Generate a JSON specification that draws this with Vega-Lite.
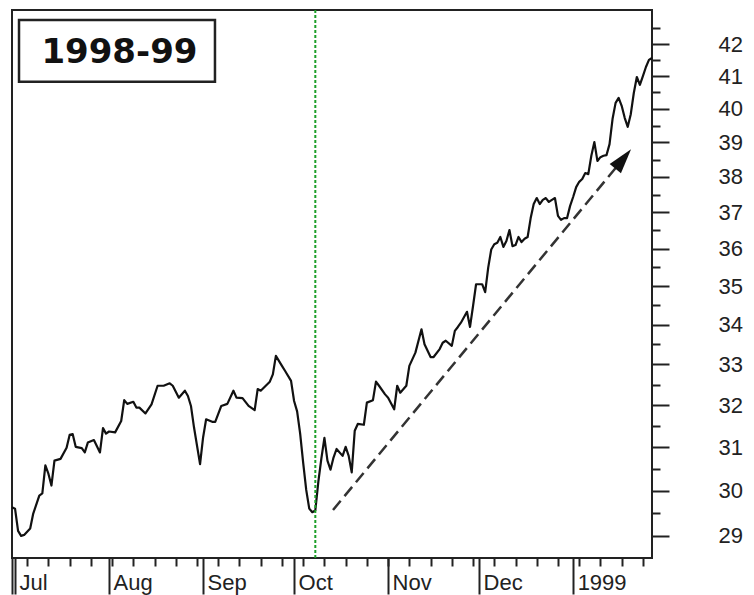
{
  "$schema": "https://vega.github.io/schema/vega-lite/v6.json",
  "width": 640,
  "height": 548,
  "padding": {"left": 10, "top": 9, "right": 0, "bottom": 0},
  "background": "white",
  "config": {
    "view": {"stroke": "#222", "strokeWidth": 2},
    "axis": {"labelFont": "Liberation Sans", "labelFontSize": 22, "labelColor": "#222", "tickColor": "#222", "tickWidth": 2, "domain": false, "grid": false, "title": null}
  },
  "datasets": {
    "price": [
      {"date": "1998-06-30", "close": 29.63}, {"date": "1998-07-01", "close": 29.60}, {"date": "1998-07-02", "close": 29.11},
      {"date": "1998-07-03", "close": 29.00}, {"date": "1998-07-04", "close": 29.02}, {"date": "1998-07-06", "close": 29.16},
      {"date": "1998-07-07", "close": 29.49}, {"date": "1998-07-09", "close": 29.89}, {"date": "1998-07-10", "close": 29.94},
      {"date": "1998-07-11", "close": 30.58}, {"date": "1998-07-12", "close": 30.39}, {"date": "1998-07-13", "close": 30.12},
      {"date": "1998-07-14", "close": 30.69}, {"date": "1998-07-16", "close": 30.73}, {"date": "1998-07-18", "close": 30.99},
      {"date": "1998-07-19", "close": 31.29}, {"date": "1998-07-20", "close": 31.31}, {"date": "1998-07-21", "close": 31.01},
      {"date": "1998-07-23", "close": 30.98}, {"date": "1998-07-24", "close": 30.88}, {"date": "1998-07-25", "close": 31.11},
      {"date": "1998-07-27", "close": 31.17}, {"date": "1998-07-29", "close": 30.88}, {"date": "1998-07-30", "close": 31.45},
      {"date": "1998-07-31", "close": 31.32}, {"date": "1998-08-01", "close": 31.37}, {"date": "1998-08-03", "close": 31.35},
      {"date": "1998-08-05", "close": 31.62}, {"date": "1998-08-06", "close": 32.12}, {"date": "1998-08-07", "close": 32.03},
      {"date": "1998-08-09", "close": 32.08}, {"date": "1998-08-10", "close": 31.94}, {"date": "1998-08-11", "close": 31.94},
      {"date": "1998-08-13", "close": 31.80}, {"date": "1998-08-15", "close": 32.02}, {"date": "1998-08-17", "close": 32.47},
      {"date": "1998-08-19", "close": 32.47}, {"date": "1998-08-21", "close": 32.53}, {"date": "1998-08-22", "close": 32.47},
      {"date": "1998-08-24", "close": 32.18}, {"date": "1998-08-26", "close": 32.35}, {"date": "1998-08-27", "close": 32.22},
      {"date": "1998-08-28", "close": 31.98}, {"date": "1998-08-29", "close": 31.47}, {"date": "1998-08-31", "close": 30.61},
      {"date": "1998-09-01", "close": 31.23}, {"date": "1998-09-02", "close": 31.66}, {"date": "1998-09-04", "close": 31.60},
      {"date": "1998-09-05", "close": 31.60}, {"date": "1998-09-07", "close": 31.98}, {"date": "1998-09-09", "close": 32.03},
      {"date": "1998-09-11", "close": 32.35}, {"date": "1998-09-12", "close": 32.18}, {"date": "1998-09-14", "close": 32.17},
      {"date": "1998-09-16", "close": 31.98}, {"date": "1998-09-18", "close": 31.88}, {"date": "1998-09-19", "close": 32.39},
      {"date": "1998-09-20", "close": 32.35}, {"date": "1998-09-23", "close": 32.57}, {"date": "1998-09-24", "close": 32.75},
      {"date": "1998-09-25", "close": 33.21}, {"date": "1998-09-27", "close": 32.96}, {"date": "1998-09-28", "close": 32.84},
      {"date": "1998-09-30", "close": 32.59}, {"date": "1998-10-01", "close": 32.10}, {"date": "1998-10-02", "close": 31.85},
      {"date": "1998-10-03", "close": 31.32}, {"date": "1998-10-04", "close": 30.64}, {"date": "1998-10-05", "close": 30.02},
      {"date": "1998-10-06", "close": 29.60}, {"date": "1998-10-07", "close": 29.52}, {"date": "1998-10-08", "close": 29.56},
      {"date": "1998-10-09", "close": 30.21}, {"date": "1998-10-10", "close": 30.74}, {"date": "1998-10-11", "close": 31.22},
      {"date": "1998-10-12", "close": 30.69}, {"date": "1998-10-13", "close": 30.48}, {"date": "1998-10-14", "close": 30.76},
      {"date": "1998-10-15", "close": 30.96}, {"date": "1998-10-17", "close": 30.80}, {"date": "1998-10-18", "close": 31.01},
      {"date": "1998-10-19", "close": 30.80}, {"date": "1998-10-20", "close": 30.42}, {"date": "1998-10-21", "close": 31.39},
      {"date": "1998-10-22", "close": 31.55}, {"date": "1998-10-24", "close": 31.53}, {"date": "1998-10-25", "close": 32.06},
      {"date": "1998-10-27", "close": 32.12}, {"date": "1998-10-28", "close": 32.57}, {"date": "1998-10-29", "close": 32.47},
      {"date": "1998-10-31", "close": 32.26}, {"date": "1998-11-01", "close": 32.18}, {"date": "1998-11-03", "close": 31.90},
      {"date": "1998-11-04", "close": 32.47}, {"date": "1998-11-05", "close": 32.30}, {"date": "1998-11-07", "close": 32.47},
      {"date": "1998-11-08", "close": 32.96}, {"date": "1998-11-10", "close": 33.29}, {"date": "1998-11-12", "close": 33.88},
      {"date": "1998-11-13", "close": 33.50}, {"date": "1998-11-15", "close": 33.18}, {"date": "1998-11-16", "close": 33.18},
      {"date": "1998-11-18", "close": 33.38}, {"date": "1998-11-19", "close": 33.54}, {"date": "1998-11-20", "close": 33.59},
      {"date": "1998-11-22", "close": 33.46}, {"date": "1998-11-23", "close": 33.84}, {"date": "1998-11-24", "close": 33.94},
      {"date": "1998-11-25", "close": 34.05}, {"date": "1998-11-27", "close": 34.33}, {"date": "1998-11-28", "close": 33.94},
      {"date": "1998-11-29", "close": 34.48}, {"date": "1998-11-30", "close": 35.05}, {"date": "1998-12-02", "close": 35.05},
      {"date": "1998-12-03", "close": 34.84}, {"date": "1998-12-04", "close": 35.49}, {"date": "1998-12-05", "close": 35.98},
      {"date": "1998-12-06", "close": 36.12}, {"date": "1998-12-07", "close": 36.16}, {"date": "1998-12-08", "close": 36.32},
      {"date": "1998-12-09", "close": 36.05}, {"date": "1998-12-10", "close": 36.21}, {"date": "1998-12-11", "close": 36.51},
      {"date": "1998-12-12", "close": 36.07}, {"date": "1998-12-13", "close": 36.10}, {"date": "1998-12-14", "close": 36.32},
      {"date": "1998-12-15", "close": 36.18}, {"date": "1998-12-16", "close": 36.27}, {"date": "1998-12-17", "close": 36.32},
      {"date": "1998-12-18", "close": 36.84}, {"date": "1998-12-19", "close": 37.23}, {"date": "1998-12-20", "close": 37.40},
      {"date": "1998-12-21", "close": 37.23}, {"date": "1998-12-22", "close": 37.35}, {"date": "1998-12-23", "close": 37.40},
      {"date": "1998-12-24", "close": 37.29}, {"date": "1998-12-25", "close": 37.35}, {"date": "1998-12-26", "close": 37.40},
      {"date": "1998-12-27", "close": 36.90}, {"date": "1998-12-28", "close": 36.79}, {"date": "1998-12-29", "close": 36.84},
      {"date": "1998-12-30", "close": 36.84}, {"date": "1998-12-31", "close": 37.18}, {"date": "1999-01-01", "close": 37.43},
      {"date": "1999-01-02", "close": 37.71}, {"date": "1999-01-03", "close": 37.86}, {"date": "1999-01-04", "close": 37.94},
      {"date": "1999-01-05", "close": 38.11}, {"date": "1999-01-06", "close": 38.08}, {"date": "1999-01-07", "close": 38.61},
      {"date": "1999-01-08", "close": 39.01}, {"date": "1999-01-09", "close": 38.46}, {"date": "1999-01-10", "close": 38.57},
      {"date": "1999-01-11", "close": 38.61}, {"date": "1999-01-12", "close": 38.63}, {"date": "1999-01-13", "close": 38.95},
      {"date": "1999-01-14", "close": 39.70}, {"date": "1999-01-15", "close": 40.18}, {"date": "1999-01-16", "close": 40.33},
      {"date": "1999-01-17", "close": 40.09}, {"date": "1999-01-18", "close": 39.73}, {"date": "1999-01-19", "close": 39.46},
      {"date": "1999-01-20", "close": 39.84}, {"date": "1999-01-21", "close": 40.48}, {"date": "1999-01-22", "close": 40.97},
      {"date": "1999-01-23", "close": 40.73}, {"date": "1999-01-24", "close": 41.00}, {"date": "1999-01-25", "close": 41.28},
      {"date": "1999-01-26", "close": 41.50}, {"date": "1999-01-27", "close": 41.56}
    ],
    "event": [{"date": "1998-10-08"}],
    "trend": [
      {"date": "1998-10-13T20:00:00Z", "close": 29.57},
      {"date": "1999-01-17T12:00:00Z", "close": 38.52}
    ],
    "arrow": [{"date": "1999-01-17T12:00:00Z", "close": 38.52}],
    "box": [{"start": "1998-07-02T07:30:00Z", "end": "1998-09-04T22:00:00Z", "low": 40.82, "high": 42.77, "label": "1998-99", "mid": "1998-08-04T10:00:00Z", "labelY": 41.72}]
  },
  "layer": [
    {
      "data": {"name": "price"},
      "mark": {"type": "line", "color": "#111", "strokeWidth": 2.2, "strokeJoin": "round"},
      "encoding": {
        "x": {
          "field": "date", "type": "temporal",
          "scale": {"type": "utc", "domain": [{"year": 1998, "month": "jun", "date": 30, "utc": true}, {"year": 1999, "month": "jan", "date": 27, "utc": true}]},
          "axis": {
            "orient": "bottom",
            "values": [
              {"year": 1998, "month": "jun", "date": 30, "utc": true},
              {"year": 1998, "month": "jul", "date": 1, "utc": true},
              {"year": 1998, "month": "aug", "date": 1, "utc": true},
              {"year": 1998, "month": "sep", "date": 1, "utc": true},
              {"year": 1998, "month": "oct", "date": 1, "utc": true},
              {"year": 1998, "month": "nov", "date": 1, "utc": true},
              {"year": 1998, "month": "dec", "date": 1, "utc": true},
              {"year": 1999, "month": "jan", "date": 1, "utc": true}
            ],
            "labelExpr": "utcdate(datum.value) != 1 ? '' : (utcmonth(datum.value) == 0 ? utcFormat(datum.value, '%Y') : utcFormat(datum.value, '%b'))",
            "tickSize": 36, "labelPadding": -5, "labelAlign": "left", "labelBaseline": "alphabetic", "labelOffset": 4,
            "labelFlush": false, "labelOverlap": false, "labelBound": false
          }
        },
        "y": {
          "field": "close", "type": "quantitative",
          "scale": {"type": "log", "domain": [28.52, 43.09], "nice": false, "zero": false},
          "axis": {
            "orient": "right",
            "values": [29, 30, 31, 32, 33, 34, 35, 36, 37, 38, 39, 40, 41, 42],
            "format": "d", "tickSize": 17, "labelPadding": 49, "labelAlign": "left", "labelBaseline": "middle",
            "labelOverlap": false, "labelFlush": false, "labelBound": false
          }
        }
      }
    },
    {
      "data": {"name": "event"},
      "mark": {"type": "rule", "color": "#1c9e28", "strokeWidth": 2, "strokeDash": [3, 2]},
      "encoding": {
        "x": {
          "field": "date", "type": "temporal",
          "axis": {"orient": "bottom", "tickCount": {"interval": "week", "step": 1}, "tickSize": 8, "labels": false, "domain": false}
        }
      }
    },
    {
      "data": {"name": "trend"},
      "mark": {"type": "line", "color": "#333", "strokeWidth": 2.5, "strokeDash": [12, 6]},
      "encoding": {
        "x": {"field": "date", "type": "temporal", "axis": null},
        "y": {
          "field": "close", "type": "quantitative",
          "axis": {"orient": "right", "values": [29.5, 30.5, 31.5, 32.5, 33.5, 34.5, 35.5, 36.5, 37.5, 38.5, 39.5, 40.5, 41.5, 42.5], "tickSize": 8, "labels": false, "domain": false}
        }
      }
    },
    {
      "data": {"name": "arrow"},
      "mark": {"type": "point", "shape": "M0,-1L0.58,1L-0.58,1Z", "size": 625, "angle": 39, "filled": true, "color": "#111", "opacity": 1},
      "encoding": {
        "x": {"field": "date", "type": "temporal", "axis": null},
        "y": {"field": "close", "type": "quantitative", "axis": null}
      }
    },
    {
      "data": {"name": "box"},
      "mark": {"type": "rect", "fill": "white", "stroke": "#222", "strokeWidth": 2.5},
      "encoding": {
        "x": {"field": "start", "type": "temporal", "axis": null},
        "x2": {"field": "end"},
        "y": {"field": "low", "type": "quantitative", "axis": null},
        "y2": {"field": "high"}
      }
    },
    {
      "data": {"name": "box"},
      "mark": {"type": "text", "font": "DejaVu Sans", "fontWeight": "bold", "fontSize": 34, "color": "#111", "align": "center", "baseline": "middle"},
      "encoding": {
        "x": {"field": "mid", "type": "temporal", "axis": null},
        "y": {"field": "labelY", "type": "quantitative", "axis": null},
        "text": {"field": "label"}
      }
    }
  ],
  "resolve": {"axis": {"x": "independent", "y": "independent"}}
}
